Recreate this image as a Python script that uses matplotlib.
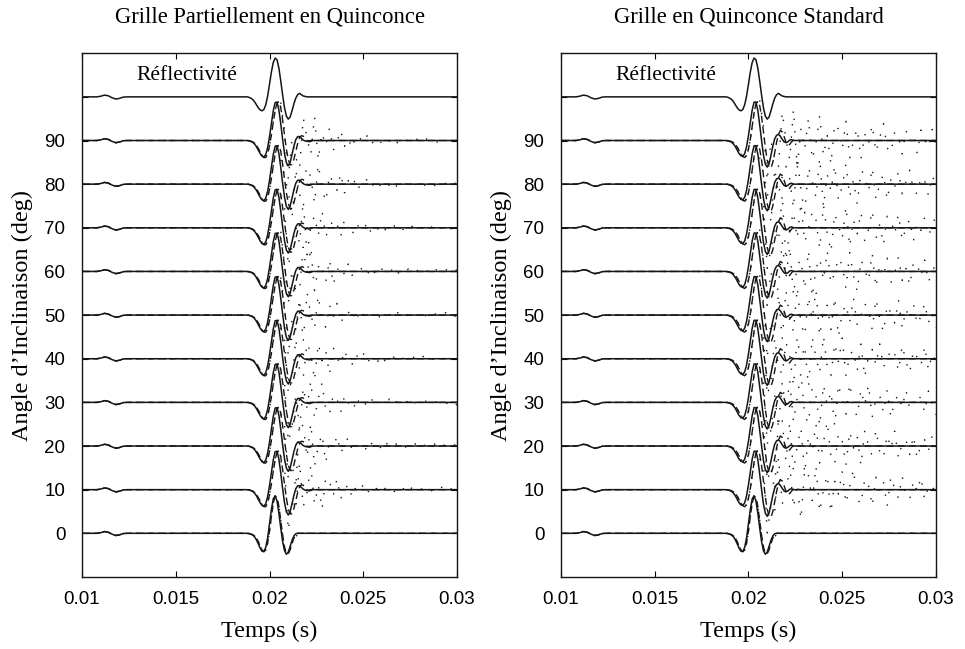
import numpy as np
import matplotlib
matplotlib.use("Agg")
import matplotlib.pyplot as plt

SERIF = "Liberation Serif"
SANS = "Liberation Sans"
INK = "#151515"

# sampling of the traces (s)
t_early = [0.0100, 0.0108, 0.0110, 0.0112, 0.0114, 0.0116, 0.0118, 0.0120, 0.0122, 0.0124, 0.0150, 0.0180]
a_early = [0.0, 0.0, 0.15, 0.4, 0.25, -0.2, -0.5, -0.35, -0.05, 0.0, 0.0, 0.0]
t_main = np.round(0.0188 + 0.0001 * np.arange(37), 5)   # 0.0188 .. 0.0224
t_late = [0.0228, 0.0300]
t_scatter = np.round(0.0206 + 0.0002 * np.arange(48), 5)  # 0.0206 .. 0.0300

angles = [0, 10, 20, 30, 40, 50, 60, 70, 80, 90]
angle_labels = ["0", "10", "20", "30", "40", "50", "60", "70", "80", "90", ""]
refl_offset = 100

# wavelet amplitudes on t_main (units of the angle axis)
reflect_amp = [0, -0.1, -0.3, -0.6, -1.1, -1.8, -2.5, -3.0, -3.2, -2.9,
               -1.8, 0.2, 2.9, 5.7, 7.9, 8.9, 8.5, 6.6, 3.6, 0.4,
               -2.5, -4.4, -5.1, -4.6, -3.2, -1.6, -0.3, 0.5, 0.8, 0.5,
               0.2, 0.1, 0, 0, 0, 0, 0]
bottom_solid = [0, -0.05, -0.2, -0.4, -0.8, -1.5, -2.4, -3.4, -4.1, -4.2,
                -3.2, -1.0, 2.2, 5.5, 7.9, 8.6, 7.4, 4.6, 1.2, -1.9,
                -4.0, -4.8, -4.3, -3.0, -1.6, -0.6, -0.1, 0, 0, 0,
                0, 0, 0, 0, 0, 0, 0]
bottom_dash = [0, -0.05, -0.15, -0.3, -0.6, -1.1, -1.9, -2.9, -3.8, -4.2,
               -3.8, -2.2, 0.5, 3.9, 6.9, 8.5, 8.2, 6.2, 2.9, -0.4,
               -3.1, -4.6, -4.7, -3.8, -2.4, -1.1, -0.3, 0, 0, 0,
               0, 0, 0, 0, 0, 0, 0]
left_solid = [0, -0.05, -0.2, -0.4, -0.8, -1.4, -2.2, -3.0, -3.6, -3.8,
              -3.2, -1.6, 0.9, 3.9, 6.8, 8.7, 8.8, 7.0, 3.8, 0.2,
              -3.0, -5.1, -5.8, -5.0, -3.2, -1.3, 0.2, 0.9, 0.9, 0.5,
              0.1, -0.1, -0.2, -0.1, 0, 0, 0]
left_dash = [0, -0.05, -0.15, -0.3, -0.6, -1.1, -1.8, -2.6, -3.4, -3.9,
             -3.9, -3.0, -1.2, 1.3, 4.2, 6.9, 8.6, 8.9, 7.5, 4.6,
             1.2, -2.0, -4.4, -5.6, -5.5, -4.3, -2.5, -0.7, 0.6, 1.1,
             1.0, 0.5, 0.0, -0.3, -0.2, 0, 0]
right_solid = [0, -0.05, -0.2, -0.4, -0.8, -1.4, -2.2, -3.0, -3.5, -3.6,
               -3.0, -1.4, 1.1, 4.1, 7.0, 8.8, 8.8, 6.9, 3.6, 0.0,
               -3.3, -5.4, -6.1, -5.3, -3.4, -1.3, 0.4, 1.2, 1.4, 1.0,
               0.3, -0.3, -0.5, -0.3, 0.1, 0.2, 0]
right_dash = [0, -0.05, -0.1, -0.25, -0.5, -0.9, -1.5, -2.3, -3.1, -3.7,
              -3.9, -3.4, -2.0, 0.3, 3.3, 6.3, 8.4, 9.0, 8.0, 5.5,
              2.0, -1.6, -4.5, -6.1, -6.3, -5.0, -2.8, -0.4, 1.4, 2.3,
              2.0, 0.9, -0.4, -1.1, -0.9, -0.3, 0.1]

# spread of the dotted trace on t_scatter, read per panel
left_spread = [2.0, 4.0, 5.5, 6.5, 7.0, 7.0, 7.0, 6.5, 6.0, 5.5,
               5.0, 4.5, 4.0, 3.6, 3.2, 2.8, 2.5, 2.2, 2.0, 1.8,
               1.6, 1.4, 1.3, 1.2, 1.1, 1.0, 1.0, 0.9, 0.9, 0.8,
               0.8, 0.8, 0.7, 0.7, 0.7, 0.7, 0.6, 0.6, 0.6, 0.6,
               0.6, 0.6, 0.6, 0.6, 0.6, 0.6, 0.6, 0.6]
right_spread = [2.0, 4.0, 6.0, 7.0, 7.5, 7.5, 7.5, 7.5, 7.0, 7.0,
                7.0, 6.8, 6.6, 6.4, 6.2, 6.0, 6.0, 5.8, 5.6, 5.5,
                5.4, 5.2, 5.0, 4.9, 4.8, 4.7, 4.6, 4.5, 4.4, 4.3,
                4.2, 4.1, 4.0, 3.9, 3.8, 3.7, 3.6, 3.5, 3.4, 3.3,
                3.2, 3.1, 3.0, 3.0, 2.9, 2.9, 2.8, 2.8]
bottom_spread = [0.6, 0.9, 1.0, 0.8, 0.5, 0.3] + [0.0] * 42
wobble = [0.3, -0.8, 0.9, -0.2, -1.0, 0.6, 0.1, -0.5, 1.0, -0.9,
          0.4, -0.3, 0.8, -0.7, -0.1, 0.95, -0.6, 0.2, -1.0, 0.7,
          0.5, -0.4, 0.9, -0.85, 0.0, 0.6, -0.95, 0.35, -0.2, 0.85,
          -0.65, 0.15, 1.0, -0.45, -0.75, 0.55, 0.25, -0.9, 0.7, -0.1,
          0.45, -1.0, 0.8, 0.05, -0.55, 0.9, -0.3, -0.7, 0.65, -0.15,
          0.95, -0.8, 0.2, 0.4, -0.6, 0.75, -0.95, 0.1, 0.5, -0.35,
          0.85, -0.5, -0.05, 0.6]


def full_trace(vals):
    t = np.concatenate([t_early, t_main, t_late])
    a = np.concatenate([a_early, vals, [0.0, 0.0]])
    return t, a


def dotted_trace(base, spread, shift):
    # returns the wavelet part and the scattered part separately
    base = np.asarray(base)
    head = t_main <= 0.0206
    tail = np.concatenate([base[18::2], np.zeros(len(t_scatter) - len(base[18::2]))])
    w = np.take(wobble, np.arange(len(t_scatter)) + shift, mode="wrap")
    t1 = np.concatenate([t_early, t_main[head]])
    a1 = np.concatenate([a_early, base[head]])
    a2 = tail + np.asarray(spread) * w
    return (t1, a1), (t_scatter, a2)


def draw_panel(ax, title, solid, dash, spread):
    for i, ang in enumerate(angles):
        if ang == 0:
            s, d, sp = bottom_solid, bottom_dash, bottom_spread
        else:
            s, d, sp = solid, dash, spread
        (t1, a1), (t2, a2) = dotted_trace(d, sp, 7 * i)
        ax.plot(t1, a1 + ang, color=INK, lw=1.0, linestyle=(0, (1, 4)))
        ax.plot(t2, a2 + ang, color=INK, lw=1.0, linestyle=(0, (1, 8)))
        t, a = full_trace(d)
        ax.plot(t, a + ang, color=INK, lw=1.0, linestyle=(0, (5, 3)))
        t, a = full_trace(s)
        ax.plot(t, a + ang, color=INK, lw=1.1)
    t, a = full_trace(reflect_amp)
    ax.plot(t, a + refl_offset, color=INK, lw=1.1)
    ax.text(0.0129, 105.0, "Réflectivité", family=SERIF, fontsize=15.5, va="center", ha="left")

    ax.set_xlim(0.01, 0.03)
    ax.set_ylim(-10, 110)
    ax.set_xticks([0.01, 0.015, 0.02, 0.025, 0.03])
    ax.set_xticklabels(["0.01", "0.015", "0.02", "0.025", "0.03"])
    ax.set_yticks(angles + [refl_offset])
    ax.set_yticklabels(angle_labels)
    ax.tick_params(direction="in", top=True, right=True, length=4, width=0.8,
                   labelsize=13.5)
    ax.tick_params(axis="x", pad=10)
    ax.tick_params(axis="y", pad=12)
    for lab in ax.get_xticklabels() + ax.get_yticklabels():
        lab.set_family(SANS)
    for sp_ in ax.spines.values():
        sp_.set_linewidth(1.0)
        sp_.set_color(INK)
    ax.set_title(title, family=SERIF, fontsize=16.3, pad=22)
    ax.set_xlabel("Temps (s)", family=SERIF, fontsize=17.5, labelpad=9)
    ax.set_ylabel("Angle d\u2019Inclinaison (deg)", family=SERIF, fontsize=17.5, labelpad=8)


fig = plt.figure(figsize=(9.65, 6.49), dpi=100)
ax1 = fig.add_axes([0.085, 0.111, 0.3886, 0.807])
ax2 = fig.add_axes([0.5813, 0.111, 0.3886, 0.807])
draw_panel(ax1, "Grille Partiellement en Quinconce", left_solid, left_dash, left_spread)
draw_panel(ax2, "Grille en Quinconce Standard", right_solid, right_dash, right_spread)
fig.savefig("out.png", dpi=100)
